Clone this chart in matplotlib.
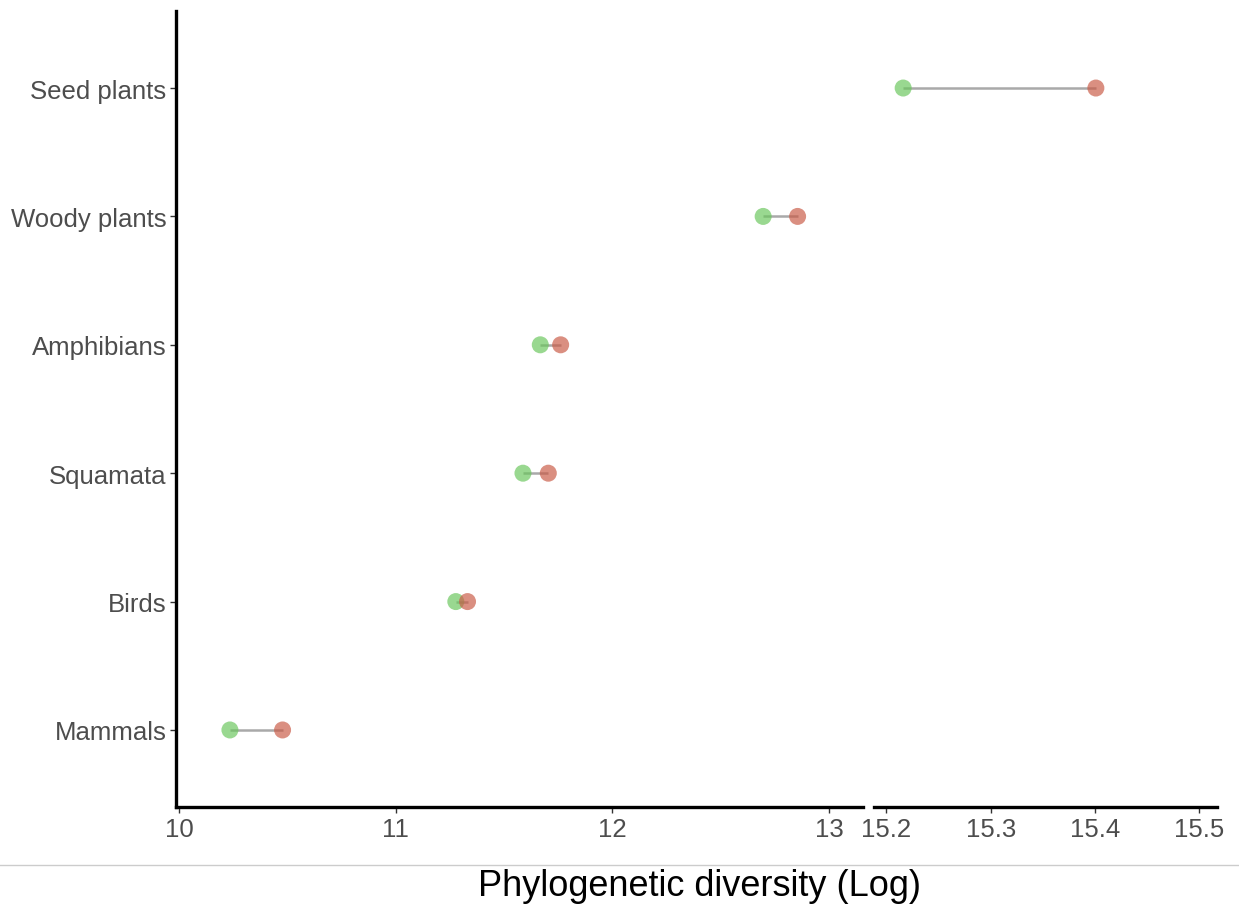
import matplotlib
matplotlib.use("Agg")
import matplotlib.pyplot as plt
from matplotlib.lines import Line2D

plt.rcParams['font.family'] = ['Liberation Sans', 'DejaVu Sans']

categories = ["Mammals", "Birds", "Squamata", "Amphibians", "Woody plants", "Seed plants"]
pd_low = [10.234, 11.277, 11.587, 11.667, 12.696, 15.216]
pd_high = [10.477, 11.331, 11.704, 11.761, 12.855, 15.401]
left_ticks = [10, 11, 12, 13]
right_ticks = [15.2, 15.3, 15.4, 15.5]
xlabel = "Phylogenetic diversity (Log)"

green = "#69C65B"
red = "#C95A46"
tick_col = "#4D4D4D"

fig = plt.figure(figsize=(12.39, 9.12), dpi=100)
bottom, top = 1 - 808 / 912, 1 - 12 / 912
axL = fig.add_axes([176 / 1239, bottom, (863 - 176) / 1239, top - bottom])
axR = fig.add_axes([874 / 1239, bottom, (1216.7 - 874) / 1239, top - bottom])

ypos = list(range(1, len(categories) + 1))
for ax in (axL, axR):
    ax.hlines(ypos, pd_low, pd_high, color="#8c8c8c", lw=1.8, alpha=0.75, zorder=1)
    ax.scatter(pd_low, ypos, s=150, color=green, alpha=0.68, edgecolors="none", zorder=2)
    ax.scatter(pd_high, ypos, s=150, color=red, alpha=0.68, edgecolors="none", zorder=3)
    ax.set_ylim(0.4, 6.6)
    for s in ("top", "right"):
        ax.spines[s].set_visible(False)
    ax.spines["bottom"].set_linewidth(2.4)
    ax.spines["bottom"].set_color("black")
    ax.tick_params(axis="x", length=4, width=1, color="#333333", labelsize=18.5,
                   labelcolor=tick_col, pad=3)

axL.set_xlim(9.985, 13.157)
axL.set_xticks(left_ticks)
axL.set_xticklabels([str(t) for t in left_ticks])
axL.set_yticks(ypos)
axL.set_yticklabels(categories)
axL.spines["left"].set_linewidth(2.4)
axL.spines["left"].set_color("black")
axL.tick_params(axis="y", length=4, width=1, color="#333333", labelsize=18.5,
                labelcolor=tick_col, pad=3)

axR.set_xlim(15.188, 15.517)
axR.set_xticks(right_ticks)
axR.set_xticklabels([f"{t:.1f}" for t in right_ticks])
axR.spines["left"].set_visible(False)
axR.set_yticks([])

fig.add_artist(Line2D([0, 1], [1 - 866 / 912, 1 - 866 / 912], transform=fig.transFigure,
                      color="#cccccc", lw=1))
fig.text(699 / 1239, 1 - 887 / 912, xlabel, ha="center", va="center", fontsize=26,
         color="black")

fig.savefig("out.png", dpi=100)
